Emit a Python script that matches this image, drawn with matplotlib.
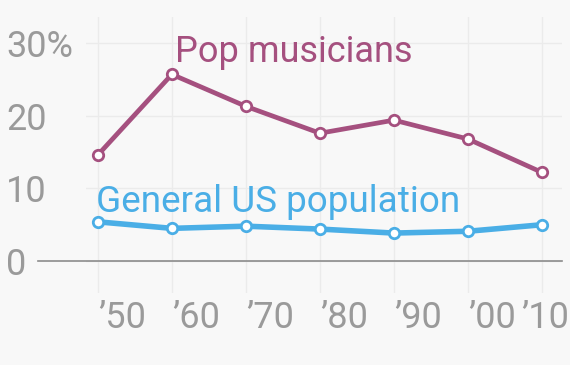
import matplotlib
matplotlib.use("Agg")
import matplotlib.pyplot as plt
import matplotlib.transforms as mtransforms

plt.rcParams['font.family'] = ['Roboto', 'DejaVu Sans']

decades = [1950, 1960, 1970, 1980, 1990, 2000, 2010]
decade_labels = ['’50', '’60', '’70', '’80', '’90', '’00', '’10']
pop_musicians = [14.6, 25.7, 21.3, 17.6, 19.4, 16.8, 12.2]
us_population = [5.4, 4.5, 4.8, 4.4, 3.85, 4.1, 5.0]
y_ticks = [0, 10, 20, 30]
y_labels = ['0', '10', '20', '30%']

pink = '#a5507f'
blue = '#4aaee6'
gray = '#9a9a9a'
bg = '#f8f8f8'

fig = plt.figure(figsize=(5.7, 3.65), dpi=100, facecolor=bg)
W, H = 570, 365
ax = fig.add_axes([86 / W, 1 - 293 / H, (562 - 86) / W, (293 - 17) / H])
ax.set_facecolor(bg)

ax.set_xlim(1948.4, 2012.7)
ax.set_ylim(-4.4, 33.6)

for s in ax.spines.values():
    s.set_visible(False)

ax.set_xticks(decades)
ax.set_xticklabels(decade_labels)
ax.set_yticks(y_ticks)
ax.set_yticklabels(y_labels)
ax.tick_params(length=0, labelsize=26, labelcolor=gray)
ax.tick_params(axis='y', pad=57.5)
ax.tick_params(axis='x', pad=5)
for lab in ax.get_yticklabels():
    lab.set_horizontalalignment('left')
xlabs = ax.get_xticklabels()
for lab in xlabs:
    lab.set_horizontalalignment('left')
# last label pushed in to stay inside the figure
xlabs[-1].set_horizontalalignment('right')
xlabs[-1].set_transform(xlabs[-1].get_transform() +
                        mtransforms.ScaledTranslation(27 / 100, 0, fig.dpi_scale_trans))

ax.grid(True, color='#ebebeb', linewidth=1)
ax.set_axisbelow(True)
ax.axhline(0, xmin=-0.101, xmax=1, color='#8c8c8c', linewidth=1.2, clip_on=False, zorder=1)

ax.plot(decades, pop_musicians, color=pink, linewidth=3.4, marker='o', markersize=7.5,
        markerfacecolor='white', markeredgecolor=pink, markeredgewidth=2, zorder=3)
ax.plot(decades, us_population, color=blue, linewidth=4, marker='o', markersize=7.5,
        markerfacecolor='white', markeredgecolor=blue, markeredgewidth=2, zorder=3)

ax.text(1960.4, 27.4, 'Pop musicians', color=pink, fontsize=26, ha='left', va='baseline')
ax.text(1949.7, 6.7, 'General US population', color=blue, fontsize=26.6, ha='left', va='baseline')

fig.savefig('out.png', dpi=100, facecolor=bg)
